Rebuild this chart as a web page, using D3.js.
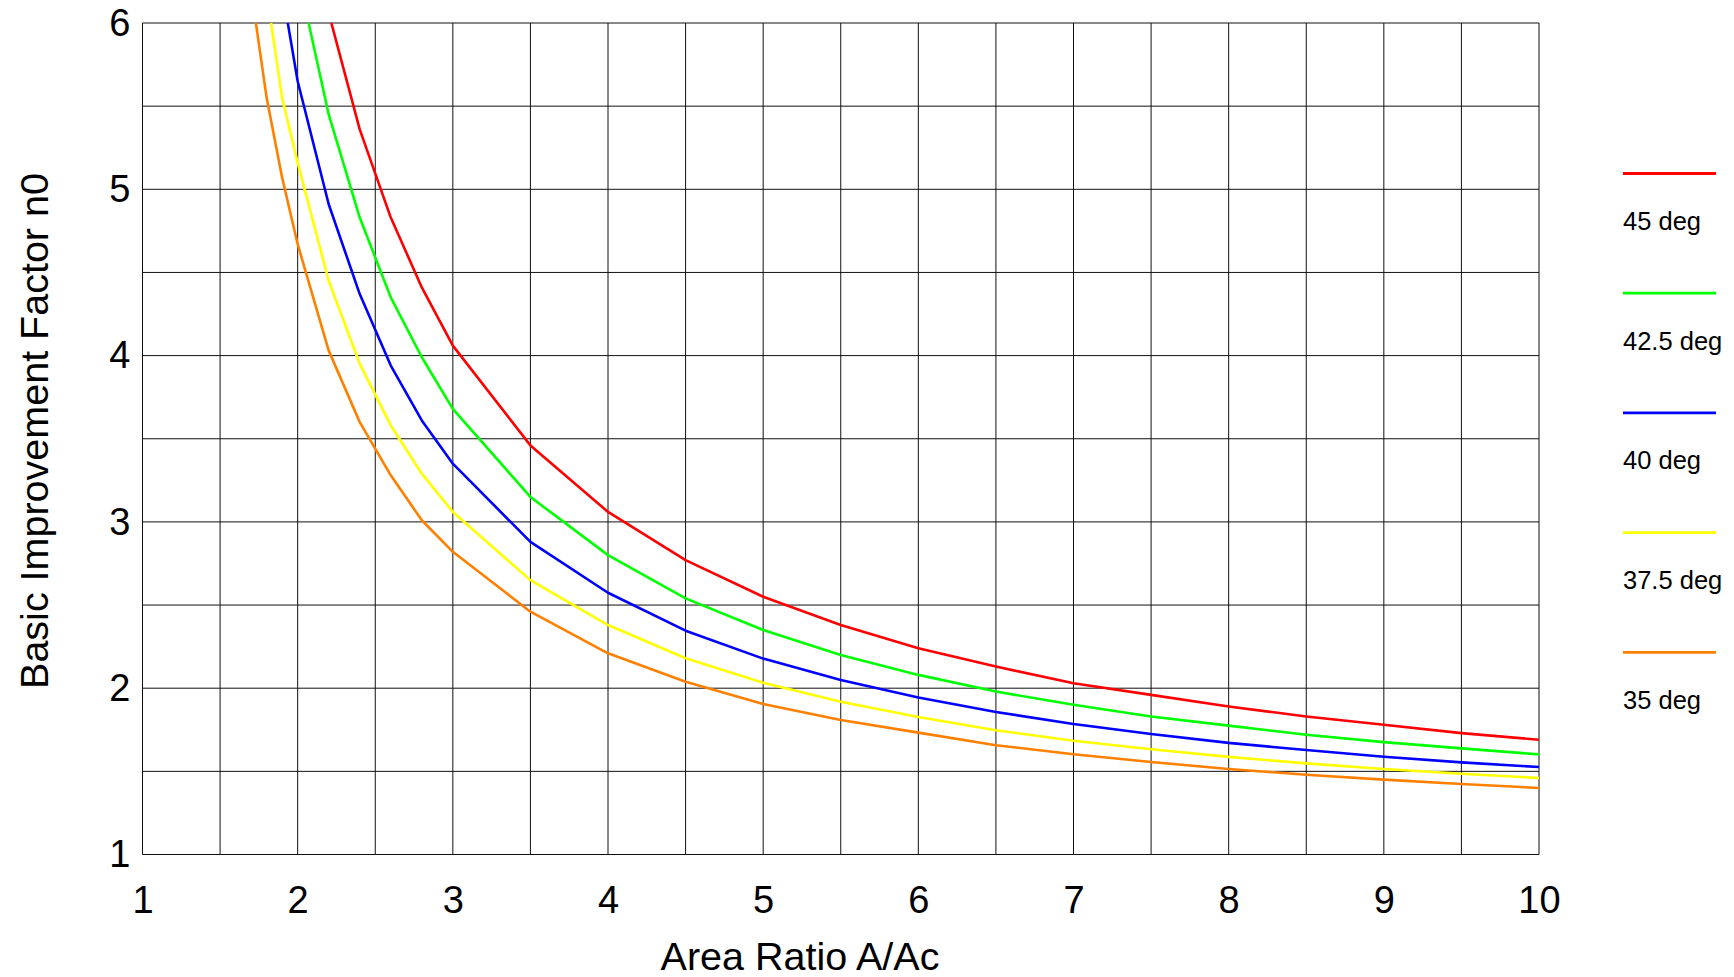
<!DOCTYPE html>
<html>
<head>
<meta charset="utf-8">
<script src="https://cdn.jsdelivr.net/npm/d3@7"></script>
<style>
  body { margin: 0; background: #fff; }
  svg { display: block; font-family: "Liberation Sans", Arial, sans-serif; }
</style>
</head>
<body>
<svg width="1734" height="977"></svg>
<script>
// area ratio A/Ac sample points
const areaRatio = [1.7, 1.8, 1.9, 2.0, 2.2, 2.4, 2.6, 2.8, 3.0,
  3.5, 4, 4.5, 5, 5.5, 6, 6.5, 7, 7.5, 8, 8.5, 9, 9.5, 10];

// basic improvement factor n0 per angle (null = off the chart)
const deg45 = [null, null, null, null, 6.06, 5.36, 4.83, 4.41, 4.06,
  3.46, 3.06, 2.77, 2.55, 2.38, 2.24, 2.13, 2.03, 1.96, 1.89, 1.83, 1.78, 1.73, 1.69];
const deg425 = [null, null, null, 6.30, 5.45, 4.83, 4.35, 3.99, 3.68,
  3.15, 2.80, 2.54, 2.35, 2.20, 2.08, 1.98, 1.90, 1.83, 1.775, 1.72, 1.676, 1.638, 1.602];
const deg40 = [null, null, 6.20, 5.65, 4.91, 4.37, 3.94, 3.61, 3.35,
  2.88, 2.574, 2.346, 2.178, 2.049, 1.944, 1.857, 1.785, 1.725, 1.671, 1.628, 1.588, 1.554, 1.526];
const deg375 = [null, 6.18, 5.55, 5.16, 4.45, 3.95, 3.58, 3.29, 3.06,
  2.65, 2.38, 2.18, 2.033, 1.919, 1.827, 1.747, 1.684, 1.633, 1.587, 1.548, 1.514, 1.486, 1.460];
const deg35 = [6.20, 5.55, 5.07, 4.67, 4.03, 3.60, 3.28, 3.01, 2.82,
  2.46, 2.21, 2.039, 1.905, 1.809, 1.733, 1.657, 1.603, 1.556, 1.514, 1.480, 1.450, 1.424, 1.400];

const seriesNames = ["45 deg", "42.5 deg", "40 deg", "37.5 deg", "35 deg"];
const seriesColors = ["#ff0000", "#00ff00", "#0000ff", "#ffff00", "#ff8000"];
const seriesValues = [deg45, deg425, deg40, deg375, deg35];

const xTicks = [1, 2, 3, 4, 5, 6, 7, 8, 9, 10];
const yTicks = [1, 2, 3, 4, 5, 6];

const svg = d3.select("svg");
const plotLeft = 142.5, plotRight = 1539, plotTop = 23, plotBottom = 854.5;

const x = d3.scaleLinear().domain([1, 10]).range([plotLeft, plotRight]);
const y = d3.scaleLinear().domain([1, 6]).range([plotBottom, plotTop]);

// grid every 0.5
const grid = svg.append("g").attr("stroke", "#111").attr("stroke-width", 1);
grid.selectAll("line.v").data(d3.range(1, 10.01, 0.5)).enter().append("line")
  .attr("class", "v")
  .attr("x1", d => x(d)).attr("x2", d => x(d))
  .attr("y1", plotTop).attr("y2", plotBottom);
grid.selectAll("line.h").data(d3.range(1, 6.01, 0.5)).enter().append("line")
  .attr("class", "h")
  .attr("x1", plotLeft).attr("x2", plotRight)
  .attr("y1", d => y(d)).attr("y2", d => y(d));

// tick labels through axes, no domain or tick marks
const xAxis = svg.append("g")
  .attr("transform", `translate(0,${plotBottom})`)
  .call(d3.axisBottom(x).tickValues(xTicks).tickSize(0).tickPadding(0).tickFormat(d3.format("d")));
xAxis.select(".domain").remove();
xAxis.selectAll("text")
  .attr("dy", null)
  .attr("y", 58)
  .attr("fill", "#000")
  .style("font-size", "38px")
  .style("font-family", "'Liberation Sans', Arial, sans-serif");

const yAxis = svg.append("g")
  .attr("transform", `translate(${plotLeft},0)`)
  .call(d3.axisLeft(y).tickValues(yTicks).tickSize(0).tickPadding(12).tickFormat(d3.format("d")));
yAxis.select(".domain").remove();
yAxis.selectAll("text")
  .attr("fill", "#000")
  .style("font-size", "38px")
  .style("font-family", "'Liberation Sans', Arial, sans-serif");

// curves, clipped to the plot area
svg.append("clipPath").attr("id", "plot-clip")
  .append("rect").attr("x", plotLeft).attr("y", plotTop)
  .attr("width", plotRight - plotLeft).attr("height", plotBottom - plotTop);

const line = d3.line()
  .defined(d => d[1] != null)
  .x(d => x(d[0]))
  .y(d => y(d[1]));

const curves = svg.append("g").attr("clip-path", "url(#plot-clip)");
seriesValues.forEach((vals, i) => {
  curves.append("path")
    .datum(areaRatio.map((a, j) => [a, vals[j]]))
    .attr("fill", "none")
    .attr("stroke", seriesColors[i])
    .attr("stroke-width", 2.6)
    .attr("stroke-linejoin", "round")
    .attr("d", line);
});

// legend
const legend = svg.append("g");
seriesNames.forEach((name, i) => {
  const ly = 173.5 + i * 119.7;
  legend.append("line")
    .attr("x1", 1623).attr("x2", 1716)
    .attr("y1", ly).attr("y2", ly)
    .attr("stroke", seriesColors[i])
    .attr("stroke-width", 2.8);
  legend.append("text")
    .attr("x", 1623).attr("y", ly + 56.5)
    .style("font-size", "25.5px")
    .text(name);
});

// axis titles
svg.append("text")
  .attr("x", 800).attr("y", 970)
  .attr("text-anchor", "middle")
  .style("font-size", "39.5px")
  .text("Area Ratio A/Ac");

svg.append("text")
  .attr("transform", "translate(48,431) rotate(-90)")
  .attr("text-anchor", "middle")
  .style("font-size", "39.5px")
  .text("Basic Improvement Factor n0");
</script>
</body>
</html>
